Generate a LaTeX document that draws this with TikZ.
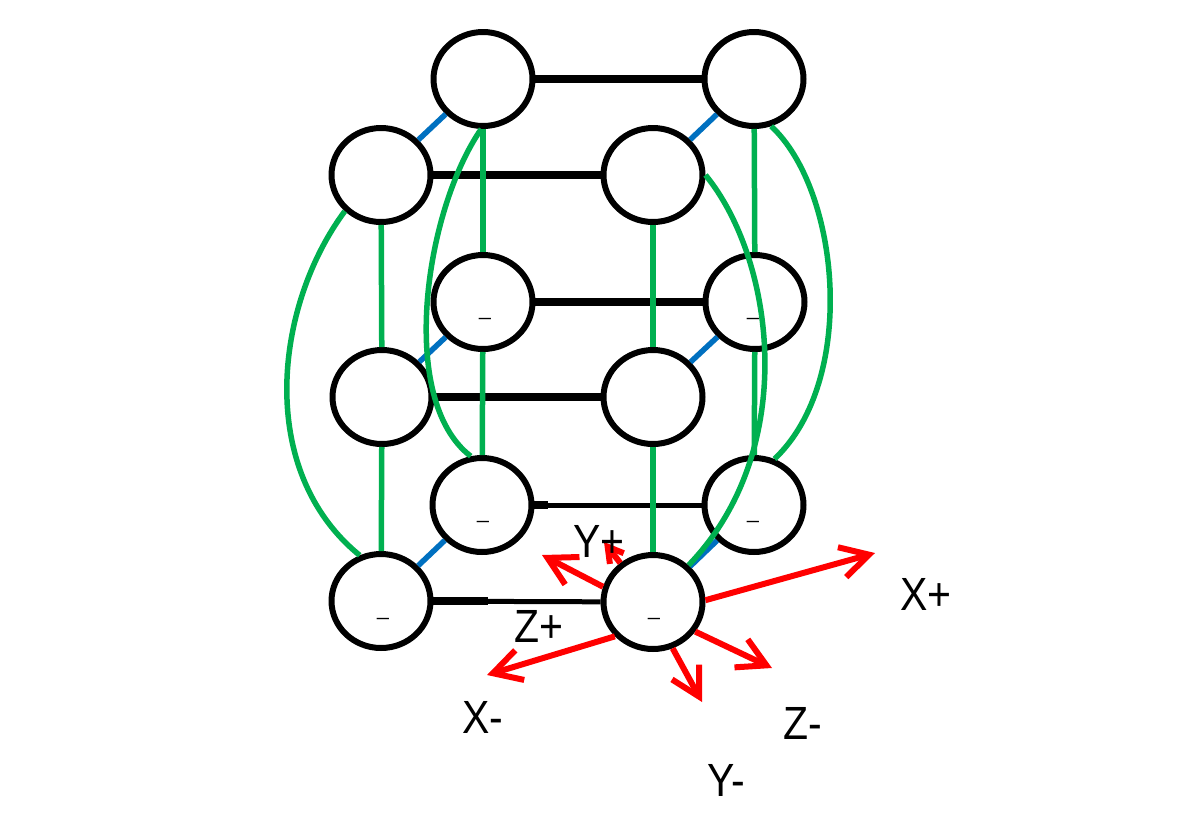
\documentclass[tikz,border=0pt]{standalone}
\usepackage{fontspec}
\setmainfont{Liberation Sans}
\newfontfamily\lblfont[FakeStretch=0.88]{Liberation Sans}
\usetikzlibrary{shapes.geometric,arrows.meta}
\definecolor{ggreen}{RGB}{0,176,80}
\definecolor{bblue}{RGB}{0,112,192}
\definecolor{rred}{RGB}{255,0,0}
\begin{document}
\begin{tikzpicture}[x=0.02cm,y=-0.02cm,
  vtx/.style={ellipse,draw=black,line width=0.12cm,minimum width=1.98cm,minimum height=1.88cm,inner sep=0pt},
  hline/.style={line width=0.15cm,draw=black},
  hthin/.style={line width=0.1cm,draw=black},
  gline/.style={line width=0.11cm,draw=ggreen},
  bline/.style={line width=0.11cm,draw=bblue},
  rarrow/.style={line width=0.12cm,draw=rred,-{Straight Barb[length=0.56cm,width=0.62cm]}},
  rsmall/.style={line width=0.12cm,draw=rred,-{Straight Barb[length=0.3cm,width=0.35cm]}},
  lbl/.style={font=\lblfont\fontsize{26.5pt}{30pt}\selectfont,inner sep=0pt,text=black},
  dashmark/.style={font=\fontsize{12pt}{14pt}\selectfont,inner sep=0pt,text=black}
]
\useasboundingbox[fill=white] (0,0) rectangle (1200,829);

% vertices
\node[vtx] (TBL) at (483,79) {};
\node[vtx] (TBR) at (754,79) {};
\node[vtx] (TFL) at (381,175) {};
\node[vtx] (TFR) at (653,175) {};
\node[vtx] (MBL) at (483,302) {};
\node[vtx] (MBR) at (755,302) {};
\node[vtx] (MFL) at (382,397) {};
\node[vtx] (MFR) at (653,397) {};
\node[vtx] (BBL) at (482,505) {};
\node[vtx] (BBR) at (754,505) {};
\node[vtx] (BFL) at (381,601) {};
\node[vtx] (BFR) at (653,602) {};

% small marks
\node[dashmark] (mMBL) at (485,318) {\_};
\node[dashmark] (mMBR) at (753,318) {\_};
\node[dashmark] (mBBL) at (483,521) {\_};
\node[dashmark] (mBBR) at (753,521) {\_};
\node[dashmark] (mBFL) at (383,618) {\_};
\node[dashmark] (mBFR) at (654,618) {\_};

% black horizontal connectors
\draw[hline] (TBL) -- (TBR);
\draw[hline] (TFL) -- (TFR);
\draw[hline] (MBL) -- (MBR);
\draw[hline] (MFL) -- (MFR);
\coordinate (kBB) at (548,505);
\coordinate (kBF) at (488,601);
\draw[hthin] (BBL) -- (BBR);
\draw[hline] (BBL.east) -- (kBB);
\draw[hthin] (BFL) -- (BFR);
\draw[hline] (BFL.east) -- (kBF);

% blue depth connectors
\draw[bline] (TFL) -- (TBL);
\draw[bline] (TFR) -- (TBR);
\draw[bline] (MFL) -- (MBL);
\draw[bline] (MFR) -- (MBR);
\draw[bline] (BFL) -- (BBL);
\draw[bline] (BFR) -- (BBR);

% green vertical connectors
\draw[gline] (TFL) -- (MFL);
\draw[gline] (MFL) -- (BFL);
\draw[gline] (TBL) -- (MBL);
\draw[gline] (MBL) -- (BBL);
\draw[gline] (TFR) -- (MFR);
\draw[gline] (MFR) -- (BFR);
\draw[gline] (TBR) -- (MBR);
\draw[gline] (MBR) -- (BBR);

% green curved connectors
\draw[gline] (TFL.225) .. controls (275,305) and (255,470) .. (BFL.115);
\draw[gline] (TBL.268) .. controls (425,210) and (397,400) .. (BBL.103);
\draw[gline] (TFR.0) .. controls (775,260) and (800,450) .. (BFR.46);
\draw[gline] (TBR.-70) .. controls (840,190) and (858,380) .. (BBR.66);

% red direction arrows
\coordinate (aXp) at (875,553);
\coordinate (aZm) at (772,668);
\coordinate (aYm) at (702,702);
\coordinate (aXm) at (487,675);
\coordinate (aZp) at (542,555);
\coordinate (aYp) at (604,542);
\draw[rarrow] (BFR.2) -- (aXp);
\draw[rarrow] (BFR.-35) -- (aZm);
\draw[rarrow] (BFR.-67) -- (aYm);
\draw[rarrow] (BFR.222) -- (aXm);
\draw[rarrow] (BFR.163) -- (aZp);
\draw[rsmall] (BFR.130) -- (aYp);

% labels
\node[lbl] (lXp) at (926,594) {X+};
\node[lbl] (lZm) at (803,723) {Z-};
\node[lbl] (lYm) at (726,780) {Y-};
\node[lbl] (lXm) at (483,717) {X-};
\node[lbl] (lZp) at (539,626) {Z+};
\node[lbl] (lYp) at (599,541) {Y+};
\end{tikzpicture}
\end{document}
